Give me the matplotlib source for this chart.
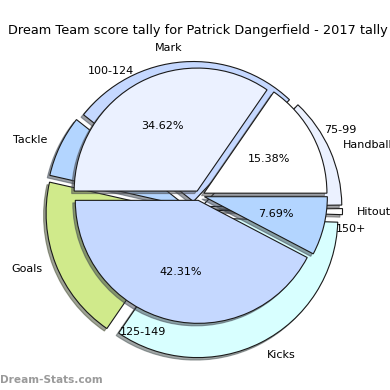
import matplotlib
matplotlib.use("Agg")
import matplotlib.pyplot as plt

# Outer ring: scoring categories (clockwise from startangle)
outer_labels = ["Mark", "Handball", "Hitout", "Kicks", "Goals", "Tackle"]
outer_values = [95.0, 46.0, 2.5, 122.5, 68.3, 25.5]
outer_colors = ["#c5d8ff", "#ebf1ff", "#ffffff", "#d8ffff", "#d0ea8b", "#b3d5ff"]

# Inner pie: score ranges (games out of 26)
inner_labels = ["75-99", "100-124", "125-149", "150+"]
inner_values = [4, 9, 11, 2]
inner_colors = ["#ffffff", "#ebf1ff", "#c5d8ff", "#b3d5ff"]

title = "Dream Team score tally for Patrick Dangerfield - 2017 tally"
watermark = "Dream-Stats.com"

fig = plt.figure(figsize=(3.9, 3.9), dpi=100)
ax = fig.add_axes([0, 0, 1, 1])

edge = dict(edgecolor="#1a1a1a", linewidth=0.8)
shadow = dict(ox=-1.8, oy=-1.8)

# explode is in data units here (1 unit = 1 pixel)
ax.pie(outer_values, labels=outer_labels, colors=outer_colors,
       startangle=141.7, counterclock=False, radius=140, center=(-3, -15),
       explode=[8.5] * len(outer_values), shadow=shadow,
       wedgeprops=dict(zorder=1, **edge), textprops=dict(fontsize=8),
       labeldistance=1.1)

ax.pie(inner_values, labels=inner_labels, colors=inner_colors,
       startangle=0, counterclock=True, radius=123, center=(2.5, -0.5),
       explode=[5] * len(inner_values), shadow=shadow,
       autopct="%1.2f%%", pctdistance=0.6,
       wedgeprops=dict(zorder=2, **edge), textprops=dict(fontsize=8),
       labeldistance=1.1)

ax.set_xlim(-197, 193)
ax.set_ylim(-195, 195)
ax.set_aspect("auto")
ax.axis("off")

fig.text(8 / 390, 0.922, title, ha="left", va="center", fontsize=9.3)
fig.text(0.0, 0.025, watermark, ha="left", va="center", fontsize=7.6,
         color="#9a9a9a", fontweight="bold")

fig.savefig("out.png", dpi=100)
